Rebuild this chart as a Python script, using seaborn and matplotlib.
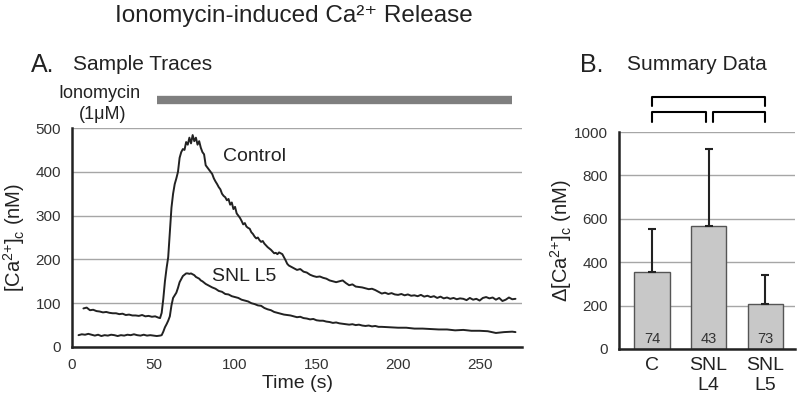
import matplotlib
matplotlib.use("Agg")
import matplotlib.pyplot as plt
import seaborn as sns

# ---- data ----
control_t = [7, 9, 11, 13, 15, 17, 19, 21, 23, 25, 27, 29, 31, 33, 35, 37, 39, 41, 43, 45,
             47, 49, 51, 53, 54, 55, 56, 57, 58, 59, 60, 61, 62, 63, 64, 65, 66, 67, 68, 69,
             70, 71, 72, 73, 74, 75, 76, 77, 78, 79, 80, 81, 82, 83, 84, 85, 86, 87, 88, 89,
             90, 91, 92, 93, 94, 95, 96, 97, 98, 99, 100, 101, 102, 103, 104, 105, 106, 107, 108, 109,
             110, 111, 112, 113, 114, 115, 116, 117, 118, 119, 120, 121, 122, 123, 124, 125, 126, 127, 128, 129,
             130, 131, 132, 133, 134, 136, 138, 140, 142, 144, 146, 148, 150, 152, 154, 156, 158, 160, 162, 164,
             166, 168, 170, 172, 174, 176, 178, 180, 182, 184, 186, 188, 190, 192, 194, 196, 198, 200, 202, 204,
             206, 208, 210, 212, 214, 216, 218, 220, 222, 224, 226, 228, 230, 232, 234, 236, 238, 240, 242, 244,
             246, 248, 250, 252, 254, 256, 258, 260, 262, 264, 266, 268, 270, 272]
control_v = [88, 90, 84, 85, 82, 81, 79, 80, 78, 77, 77, 75, 76, 73, 74, 72, 72, 71, 73, 70,
             71, 69, 70, 67, 66, 78, 110, 150, 180, 205, 260, 318, 350, 372, 385, 400, 432, 445, 452, 450,
             468, 462, 478, 465, 484, 470, 478, 462, 470, 455, 445, 440, 415, 410, 405, 400, 395, 385, 378, 372,
             365, 360, 350, 345, 342, 335, 338, 325, 330, 315, 320, 305, 300, 295, 288, 280, 283, 275, 272, 270,
             262, 258, 252, 248, 250, 244, 240, 242, 236, 232, 228, 225, 222, 218, 214, 215, 212, 216, 214, 212,
             205, 198, 190, 186, 184, 180, 176, 178, 172, 170, 165, 162, 160, 161, 158, 156, 152, 150, 148, 150,
             152, 146, 141, 143, 138, 137, 136, 134, 132, 133, 130, 126, 122, 124, 121, 123, 120, 119, 121, 118,
             120, 117, 118, 116, 119, 115, 117, 114, 116, 112, 115, 111, 113, 110, 112, 109, 111, 110, 107, 112,
             108, 110, 106, 112, 114, 111, 113, 108, 112, 105, 108, 113, 109, 110]

snl5_t = [4, 6, 8, 10, 12, 14, 16, 18, 20, 22, 24, 26, 28, 30, 32, 34, 36, 38, 40, 42,
          44, 46, 48, 50, 52, 54, 55, 56, 57, 58, 59, 60, 61, 62, 63, 64, 65, 66, 67, 68,
          69, 70, 71, 72, 73, 74, 75, 76, 77, 78, 79, 80, 82, 84, 86, 88, 90, 92, 94, 96,
          98, 100, 102, 104, 106, 108, 110, 112, 114, 116, 118, 120, 122, 124, 126, 128, 130, 132, 134, 136,
          138, 140, 142, 144, 146, 148, 150, 152, 154, 156, 158, 160, 162, 164, 166, 168, 170, 172, 174, 176,
          178, 180, 182, 184, 186, 188, 190, 195, 200, 205, 210, 215, 220, 225, 230, 235, 240, 245, 250, 255,
          260, 265, 270, 272]
snl5_v = [27, 29, 28, 30, 28, 26, 28, 25, 27, 26, 28, 27, 25, 27, 26, 28, 27, 29, 27, 26,
          28, 26, 27, 26, 25, 26, 27, 35, 45, 52, 60, 70, 95, 112, 118, 124, 135, 148, 155, 162,
          165, 168, 168, 167, 168, 166, 164, 160, 158, 156, 152, 150, 144, 140, 136, 133, 128, 126, 121, 120,
          116, 114, 112, 108, 106, 104, 100, 98, 95, 94, 89, 86, 84, 80, 78, 76, 74, 73, 72, 70,
          68, 69, 66, 65, 63, 64, 61, 60, 60, 58, 57, 55, 56, 54, 53, 52, 51, 52, 50, 51,
          49, 48, 49, 47, 48, 46, 46, 45, 44, 44, 42, 42, 41, 40, 40, 38, 39, 37, 37, 36,
          32, 34, 35, 34]

groups = ["C", "SNL\nL4", "SNL\nL5"]
means = [355, 565, 207]
sds = [197, 359, 133]
counts = [74, 43, 73]

iono_start, iono_end = 52, 270

# ---- style ----
sns.set_style("white")
plt.rcParams["font.family"] = ["Liberation Sans", "DejaVu Sans"]
plt.rcParams["mathtext.default"] = "regular"
ink = "#222222"
grid_c = "#a6a6a6"

fig = plt.figure(figsize=(8, 4.01), dpi=100)
ax = fig.add_axes([0.09, 0.1347, 0.5625, 0.546])
ax2 = fig.add_axes([0.774, 0.1297, 0.22, 0.541])

# A. sample traces
sns.lineplot(x=control_t, y=control_v, ax=ax, color=ink, lw=1.4)
sns.lineplot(x=snl5_t, y=snl5_v, ax=ax, color=ink, lw=1.4)
ax.set_xlim(0, 276)
ax.set_ylim(0, 500)
ax.set_xticks(range(0, 251, 50))
ax.set_yticks(range(0, 501, 100))
ax.yaxis.grid(True, color=grid_c, lw=1)
ax.set_axisbelow(True)
ax.set_xlabel("Time (s)", fontsize=14, color=ink, labelpad=2)
ax.set_ylabel("[Ca$^{2{+}}$]$_c$ (nM)", fontsize=14.5, color=ink, labelpad=6)
ax.text(92.5, 436, "Control", fontsize=14, color=ink, va="center")
ax.text(86, 160, "SNL L5", fontsize=14, color=ink, va="center")
ax.plot([iono_start, iono_end], [564, 564], color="#7f7f7f", lw=6, solid_capstyle="butt", clip_on=False)
ax.text(17, 580, "Ionomycin", fontsize=13, color=ink, ha="center", va="center", clip_on=False)
ax.text(19, 530, "(1μM)", fontsize=13, color=ink, ha="center", va="center", clip_on=False)

# B. summary data
sns.barplot(x=groups, y=means, ax=ax2, color="#c8c8c8", saturation=1,
            edgecolor="#555555", linewidth=1, width=0.62)
ax2.errorbar([0, 1, 2], means, yerr=[[0, 0, 0], sds], fmt="none", ecolor=ink,
             elinewidth=1.5, capsize=3, capthick=1.5)
for i, n in enumerate(counts):
    ax2.text(i, 46, str(n), fontsize=10.5, color="#333333", ha="center", va="center")
ax2.set_xlim(-0.58, 2.53)
ax2.set_ylim(0, 1000)
ax2.set_yticks(range(0, 1001, 200))
ax2.yaxis.grid(True, color=grid_c, lw=1)
ax2.set_axisbelow(True)
ax2.set_ylabel("Δ[Ca$^{2{+}}$]$_c$ (nM)", fontsize=14.5, color=ink, labelpad=0)

# significance brackets
for x0, x1, yb, yt in [(0, 2, 1122, 1163), (0, 0.95, 1048, 1094), (1.07, 2, 1048, 1094)]:
    ax2.plot([x0, x0, x1, x1], [yb, yt, yt, yb], color="black", lw=1.5, clip_on=False)

for a in (ax, ax2):
    for s in ("top", "right"):
        a.spines[s].set_visible(False)
    for s in ("left", "bottom"):
        a.spines[s].set_color(ink)
        a.spines[s].set_linewidth(1.8)
    a.tick_params(length=0, labelsize=11, pad=8, labelcolor="#333333")
ax2.tick_params(axis="x", labelsize=14, pad=6, labelcolor=ink)

fig.text(294 / 800, 1 - 16 / 401, "Ionomycin-induced Ca²⁺ Release", fontsize=17.5,
         ha="center", va="center", color=ink)
fig.text(31 / 800, 1 - 65 / 401, "A.", fontsize=18, va="center", color=ink)
fig.text(73 / 800, 1 - 65 / 401, "Sample Traces", fontsize=15, va="center", color=ink)
fig.text(580 / 800, 1 - 65 / 401, "B.", fontsize=18, va="center", color=ink)
fig.text(627 / 800, 1 - 65 / 401, "Summary Data", fontsize=15, va="center", color=ink)

fig.savefig("out.png", dpi=100)
